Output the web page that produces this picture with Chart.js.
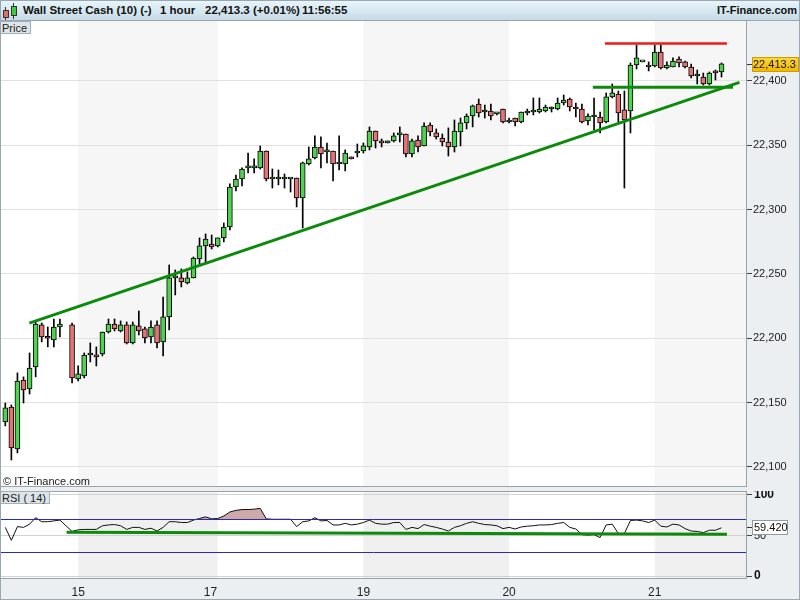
<!DOCTYPE html>
<html><head><meta charset="utf-8">
<script src="https://cdn.jsdelivr.net/npm/chart.js@4.4.0/dist/chart.umd.min.js"></script>
<style>
body{margin:0;width:800px;height:600px;position:relative;overflow:hidden;background:#eceff1;font-family:"Liberation Sans",Arial,sans-serif;color:#111}
#hdr{position:absolute;left:0;top:0;width:800px;height:21px;background:linear-gradient(#e8f5fa,#c6dbe6);border-top:1px solid #9aa7b0;border-bottom:1px solid #9aa7b0;box-sizing:border-box}
#hdr span{position:absolute;top:0;line-height:19px;font-size:11.5px;font-weight:bold;white-space:nowrap}
.ic{position:absolute;box-sizing:border-box}
canvas{position:absolute;left:0}
.tab{position:absolute;left:0;height:13px;line-height:13px;font-size:11px;padding:0 3px 0 2px;background:#dde4e9;border:1px solid #a3afb7;border-left:none;box-sizing:border-box;color:#222}
#copy{position:absolute;left:3px;top:475px;font-size:11px;color:#222}
#frame{position:absolute;left:0;top:0;width:800px;height:600px;border:1px solid #9aa7b0;box-sizing:border-box;pointer-events:none}
</style></head>
<body>
<div id="hdr">
  <div class="ic" style="left:5px;top:6px;width:1px;height:13px;background:#333"></div>
  <div class="ic" style="left:3px;top:9px;width:6px;height:8px;background:#e46b6b;border:1px solid #333"></div>
  <div class="ic" style="left:13px;top:2px;width:1px;height:16px;background:#333"></div>
  <div class="ic" style="left:11px;top:5px;width:6px;height:10px;background:#3ccc3c;border:1px solid #333"></div>
  <span style="left:23px">Wall Street Cash (10) (-)</span>
  <span style="left:160px">1 hour</span>
  <span style="left:205px">22,413.3 (+0.01%)</span>
  <span style="left:302px">11:56:55</span>
  <span style="right:3px;font-size:11px">IT-Finance.com</span>
</div>
<canvas id="main" width="800" height="467" style="top:20px"></canvas>
<canvas id="rsi" width="800" height="109" style="top:491px"></canvas>
<div class="tab" style="top:21px">Price</div>
<div id="copy">© IT-Finance.com</div>
<div class="tab" style="top:491px">RSI ( 14)</div>
<div id="frame"></div>
<script>
// ---------- data (one entry per hourly slot; slot 10 is empty) ----------
const opens = [
22135.0,22146.6,22114.0,22167.6,22160.6,22177.7,22210.4,22200.5,22198.7,22208.8,
null,22210.4,22168.4,22170.7,22187.0,22187.0,22187.8,22204.9,22211.1,22205.7,
22210.4,22196.4,22209.6,22207.3,22201.0,22210.4,22197.2,22216.6,22246.9,22246.9,
22243.0,22246.9,22261.7,22271.8,22273.3,22271.8,22278.0,22286.5,22317.6,22323.8,
22332.4,22332.4,22332.4,22345.6,22323.8,22323.8,22323.8,22323.8,22324.6,22309.1,
22335.5,22340.2,22348.7,22344.8,22345.6,22335.5,22335.5,22340.9,22344.0,22345.6,
22348.7,22361.1,22353.4,22351.8,22353.4,22358.0,22358.8,22343.3,22354.1,22349.5,
22365.8,22359.6,22355.7,22352.6,22348.7,22360.4,22367.4,22372.8,22382.1,22375.9,
22376.7,22374.4,22378.2,22368.1,22371.2,22368.1,22375.1,22375.9,22375.9,22376.7,
22378.2,22378.2,22382.9,22386.0,22379.8,22378.2,22368.9,22372.0,22372.0,22368.1,
22387.6,22389.9,22377.5,22376.7,22412.4,22414.8,22412.4,22411.7,22422.5,22410.1,
22410.9,22417.1,22414.8,22410.9,22403.9,22403.1,22397.7,22407.8,22407.0];
const highs = [
22149.7,22148.2,22173.1,22170.0,22188.6,22212.7,22211.9,22208.8,22215.0,22215.0,
null,22211.9,22178.5,22188.6,22196.4,22193.3,22204.9,22215.0,22215.0,22213.5,
22212.7,22212.7,22221.2,22208.8,22213.5,22213.5,22232.1,22257.0,22253.1,22253.9,
22251.6,22263.2,22278.0,22281.1,22280.3,22278.0,22289.6,22320.0,22326.9,22332.4,
22344.0,22339.4,22349.5,22345.6,22331.6,22330.8,22327.7,22323.8,22324.6,22337.0,
22348.7,22357.3,22356.5,22351.8,22345.6,22357.3,22346.4,22340.9,22351.0,22351.8,
22364.3,22361.1,22354.9,22353.4,22359.6,22364.3,22358.8,22354.9,22357.3,22367.4,
22367.4,22362.7,22358.8,22363.5,22369.7,22371.2,22374.4,22381.3,22386.0,22381.3,
22382.1,22375.1,22378.2,22371.2,22371.2,22375.9,22378.2,22386.8,22386.8,22381.3,
22379.8,22386.8,22389.1,22386.8,22382.9,22382.1,22374.4,22386.8,22375.9,22390.7,
22397.7,22392.2,22392.2,22414.0,22428.0,22414.8,22414.8,22428.0,22428.0,22414.8,
22417.9,22418.7,22415.5,22413.2,22408.5,22406.2,22407.0,22408.5,22414.0];
const lows = [
22131.9,22105.4,22110.9,22149.7,22156.7,22170.0,22197.2,22193.3,22193.3,22201.0,
null,22165.3,22166.8,22169.2,22181.6,22178.5,22186.3,22204.1,22205.7,22204.9,
22195.6,22195.6,22202.6,22196.4,22196.4,22192.5,22186.3,22206.5,22233.7,22239.9,
22242.2,22246.9,22257.8,22259.3,22269.4,22271.0,22274.9,22284.2,22314.5,22318.4,
22328.5,22328.5,22331.6,22322.3,22316.8,22319.2,22316.8,22313.7,22302.1,22285.8,
22334.7,22339.4,22332.4,22336.3,22322.3,22330.8,22330.1,22339.4,22340.9,22344.0,
22346.4,22347.9,22348.7,22351.8,22352.6,22352.6,22340.9,22340.9,22344.8,22349.5,
22357.3,22354.9,22349.5,22341.7,22344.8,22349.5,22362.7,22364.3,22372.0,22371.2,
22369.7,22373.6,22367.4,22367.4,22365.0,22367.4,22373.6,22373.6,22375.1,22375.9,
22375.9,22377.5,22381.3,22376.7,22372.0,22367.4,22365.8,22361.9,22359.6,22367.4,
22386.8,22368.1,22316.8,22359.6,22409.3,22414.8,22407.8,22410.9,22409.3,22409.3,
22410.9,22410.9,22410.1,22402.3,22397.7,22396.9,22396.9,22400.8,22403.1];
const closes = [
22145.9,22114.8,22166.8,22159.8,22176.9,22211.1,22201.0,22200.0,22208.8,22211.1,
null,22169.2,22172.3,22187.0,22187.0,22185.5,22204.9,22211.1,22207.3,22210.4,
22196.4,22210.4,22205.7,22200.3,22208.8,22196.4,22216.6,22246.9,22246.9,22243.8,
22246.9,22262.4,22271.8,22277.2,22271.0,22278.0,22286.5,22317.6,22323.8,22331.6,
22332.4,22332.4,22345.6,22323.8,22323.8,22323.8,22323.8,22323.8,22309.1,22336.3,
22339.4,22348.7,22343.3,22346.4,22335.5,22335.5,22344.0,22339.4,22345.6,22349.5,
22361.1,22353.4,22351.8,22353.4,22357.3,22359.6,22343.3,22353.4,22348.7,22365.0,
22360.4,22356.5,22352.6,22348.7,22361.1,22367.4,22372.8,22380.6,22375.1,22375.9,
22372.8,22374.4,22368.1,22369.7,22368.1,22375.9,22375.1,22376.7,22378.2,22379.8,
22378.2,22382.9,22385.2,22379.8,22378.2,22368.1,22372.8,22372.0,22367.4,22387.6,
22390.7,22375.1,22369.7,22412.4,22417.9,22414.8,22410.9,22422.5,22410.1,22412.4,
22415.5,22414.0,22410.9,22403.9,22403.9,22397.7,22406.2,22406.2,22413.3];
const rsi = [
60,44,61,60,64,72,67,67,68,69,
null,55,57,57.5,57.5,57.5,62,63,63.5,62,
57.5,60,60,57.5,59,55.5,60,67,67,66,
66,69,71,73,70.5,71,74,79,81,82,
82,82.5,83.5,70.5,70,70,70,70,61,67,
68,72,68,68.5,63,63,65,63,64,66,
69,65,64,64,66,66,57.5,60,58.5,63.5,
61.5,60,58,55.5,60,62,65,67,65,63.5,
63,62,58.5,60,58,60.5,61.5,62,63,63,
63.5,65,66,60,58,51,50.5,51,47.5,63,
64,52.5,52.5,68.5,69,68,66,69,61.5,60.5,
64,63,58.5,55.5,55,53.5,56.5,56.5,59.42];
const tickSlots = [12, 33.8, 59, 83, 107];
const tickLabels = ['15','17','19','20','21'];
const dayBounds = [12, 35, 59, 83, 107];
const priceTicks = [22100,22150,22200,22250,22300,22350,22400];
const rsiTicks = [0,50,100];
const rsiLevels = [30,70];
const trendUp = [{x:3.96,y:22211.8},{x:120.96,y:22398.9}];
const supportLine = [{x:96.8,y:22395.2},{x:119.9,y:22395.2}];
const resistLine = [{x:98.8,y:22429.1},{x:118.9,y:22429.1}];
const rsiSupport = [{x:10.1,y:54.0},{x:118.9,y:51.6}];

// ---------- rendering ----------
Chart.defaults.font.family = '"Liberation Sans", Arial, sans-serif';
const X_MIN = -0.873, X_MAX = 122.2;

function bgPlugin(shade){
  return {id:'bg'+shade, beforeDraw(c){
    const {ctx, chartArea:a, scales:{x}} = c;
    ctx.save();
    ctx.fillStyle = '#ffffff';
    ctx.fillRect(a.left, a.top, a.width, a.height);
    ctx.fillStyle = shade;
    for (let i = 0; i < dayBounds.length; i += 2) {
      const x0 = x.getPixelForValue(dayBounds[i]);
      const x1 = i + 1 < dayBounds.length ? x.getPixelForValue(dayBounds[i+1]) : a.right;
      ctx.fillRect(x0, a.top, Math.min(x1, a.right) - x0, a.height);
    }
    ctx.restore();
  }};
}
const framePlugin = {id:'frame', afterDraw(c){
  const {ctx, chartArea:a} = c;
  ctx.save(); ctx.strokeStyle = '#98a4ad'; ctx.lineWidth = 1;
  ctx.strokeRect(a.left + 0.5, a.top + 0.5, a.width - 1, a.height - 1);
  ctx.restore();
}};
const priceTag = {id:'priceTag', afterDraw(c){
  const {ctx, chartArea:a, scales:{y}} = c;
  const v = closes[closes.length-1];
  const py = Math.round(y.getPixelForValue(v));
  ctx.save();
  const g = ctx.createLinearGradient(0, py-7, 0, py+7);
  g.addColorStop(0, '#ffd83a'); g.addColorStop(1, '#f2b800');
  ctx.fillStyle = g; ctx.fillRect(a.right+5, py-7, 47, 15);
  ctx.strokeStyle = '#c9a000'; ctx.strokeRect(a.right+5.5, py-6.5, 46, 14);
  ctx.strokeStyle = '#333'; ctx.beginPath(); ctx.moveTo(a.right, py+0.5); ctx.lineTo(a.right+5, py+0.5); ctx.stroke();
  ctx.fillStyle = '#111'; ctx.font = '11px "Liberation Sans", Arial, sans-serif';
  ctx.textBaseline = 'middle';
  ctx.fillText(v.toLocaleString('en-US',{minimumFractionDigits:1}), a.right+6, py+1);
  ctx.restore();
}};
const rsiLevelsPlugin = {id:'levels', afterDatasetsDraw(c){
  const {ctx, chartArea:a, scales:{y}} = c;
  ctx.save(); ctx.strokeStyle = '#2b2bb0'; ctx.lineWidth = 1;
  rsiLevels.forEach(v => { const py = Math.round(y.getPixelForValue(v)) + 0.5;
    ctx.beginPath(); ctx.moveTo(a.left, py); ctx.lineTo(a.right, py); ctx.stroke(); });
  ctx.restore();
}};
const rsiTag = {id:'rsiTag', afterDraw(c){
  const {ctx, chartArea:a, scales:{y}} = c;
  const v = rsi[rsi.length-1];
  const py = Math.round(y.getPixelForValue(v)) - 1;
  ctx.save();
  ctx.fillStyle = '#fff'; ctx.fillRect(a.right+5, py-7, 36, 15);
  ctx.strokeStyle = '#8c9ba6'; ctx.strokeRect(a.right+5.5, py-6.5, 35, 14);
  ctx.strokeStyle = '#333'; ctx.beginPath(); ctx.moveTo(a.right, py+0.5); ctx.lineTo(a.right+5, py+0.5); ctx.stroke();
  ctx.fillStyle = '#111'; ctx.font = '11px "Liberation Sans", Arial, sans-serif';
  ctx.textBaseline = 'middle';
  ctx.fillText(v.toFixed(3), a.right+7, py+1);
  ctx.restore();
}};

const bodies = [], wicks = [], bodyColors = [];
opens.forEach((o, i) => {
  if (o == null) return;
  bodies.push({x:i, y:[o, closes[i]]});
  bodyColors.push(closes[i] >= o ? '#4fd24f' : '#e57373');
  wicks.push({x:i, y:[lows[i], highs[i]]});
});

new Chart(document.getElementById('main'), {
  type:'bar',
  data:{datasets:[
    {type:'line', data:trendUp, borderColor:'#0c8a0c', borderWidth:3, pointRadius:0, order:0, borderCapStyle:'butt'},
    {type:'line', data:supportLine, borderColor:'#0c8a0c', borderWidth:3, pointRadius:0, order:0, borderCapStyle:'butt'},
    {type:'line', data:resistLine, borderColor:'#ee1a1a', borderWidth:2.5, pointRadius:0, order:0, borderCapStyle:'butt'},
    {data:bodies, backgroundColor:bodyColors, borderColor:'#000', borderWidth:1, borderSkipped:false,
     barThickness:5, minBarLength:2, grouped:false, order:1},
    {data:wicks, backgroundColor:'#000', borderWidth:0, barThickness:1, grouped:false, order:2}
  ]},
  options:{
    responsive:false, animation:false, devicePixelRatio:1,
    layout:{padding:0},
    plugins:{legend:{display:false}, tooltip:{enabled:false}},
    scales:{
      x:{type:'linear', min:X_MIN, max:X_MAX, display:false, offset:false},
      y:{position:'right', min:22084.4, max:22447.4,
         afterBuildTicks:s => { s.ticks = priceTicks.map(v => ({value:v})); },
         afterFit:s => { s.width = 53; s.paddingTop = 0; s.paddingBottom = 0; },
         ticks:{callback:v => Number(v).toLocaleString('en-US'), font:{size:11}, color:'#222', padding:1},
         grid:{color:'#e1e1e1', tickColor:'#444', tickLength:5},
         border:{display:false}}
    }
  },
  plugins:[bgPlugin('#f6f6f6'), framePlugin, priceTag]
});

new Chart(document.getElementById('rsi'), {
  type:'line',
  data:{datasets:[
    {data:rsiSupport, borderColor:'#0c8a0c', borderWidth:3, pointRadius:0, order:0, borderCapStyle:'butt'},
    {data:rsi.map((v, i) => ({x:i, y:v})), borderColor:'#111', borderWidth:1, pointRadius:0, spanGaps:true, order:1,
     fill:{target:{value:70}, above:'#cfa8a8', below:'rgba(0,0,0,0)'}}
  ]},
  options:{
    responsive:false, animation:false, devicePixelRatio:1,
    layout:{padding:0},
    plugins:{legend:{display:false}, tooltip:{enabled:false}},
    scales:{
      x:{type:'linear', min:X_MIN, max:X_MAX, offset:false,
         afterBuildTicks:s => { s.ticks = tickSlots.map(v => ({value:v})); },
         afterFit:s => { s.height = 21; s.paddingLeft = 0; s.paddingRight = 0; },
         ticks:{callback:(v, i) => tickLabels[i], autoSkip:false, maxRotation:0, padding:6, font:{size:12}, color:'#222'},
         grid:{display:false, drawTicks:false}, border:{display:false}},
      y:{position:'right', min:-3.7, max:104.9,
         afterBuildTicks:s => { s.ticks = rsiTicks.map(v => ({value:v})); },
         afterFit:s => { s.width = 53; s.paddingTop = 0; s.paddingBottom = 0; },
         ticks:{callback:v => String(v), color:'#111', padding:2,
                font:ctx => (ctx.tick && ctx.tick.value === 50) ? {size:11} : {size:12, weight:'bold'}},
         grid:{color:'#d2d2d2', tickColor:'#444', tickLength:5},
         border:{display:false}}
    }
  },
  plugins:[bgPlugin('#f0f0f0'), rsiLevelsPlugin, framePlugin, rsiTag]
});
</script>
</body></html>
